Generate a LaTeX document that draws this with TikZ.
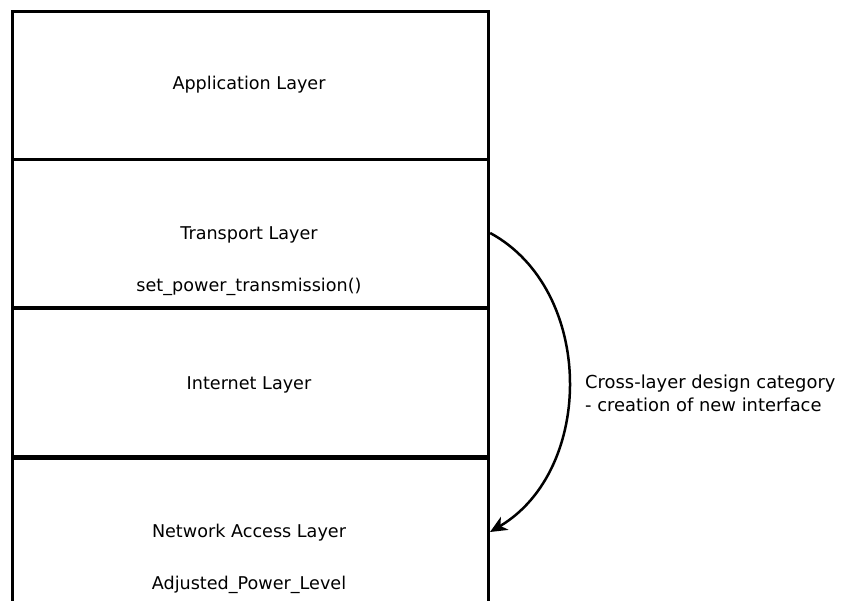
\documentclass[tikz,border=0pt]{standalone}
\usepackage{fontspec}
\setmainfont{DejaVu Sans}
\usetikzlibrary{arrows.meta}
\begin{document}
\begin{tikzpicture}[x=1pt,y=-1pt,
  layerbox/.style={draw=black,line width=3.2pt,minimum width=476pt,minimum height=148pt,inner sep=0pt,anchor=north west},
  lbl/.style={font=\fontsize{17.6pt}{20pt}\selectfont,inner sep=0pt,anchor=base},
  conn/.style={line width=2.5pt,-{Stealth[length=17pt,width=15pt,inset=5pt]}}]
\useasboundingbox (0,0) rectangle (842,600);
\clip (0,0) rectangle (842,600);
\fill[white] (0,0) rectangle (842,600);
\node[layerbox] (app) at (11,10) {};
\node[layerbox] (trans) at (11,158) {};
\node[layerbox] (inet) at (11,307) {};
\node[layerbox] (net) at (11,457) {};
\node[lbl] (tapp) at (249,89) {Application Layer};
\node[lbl] (ttrans) at (249,239) {Transport Layer};
\node[lbl] (tset) at (249,291) {set\_power\_transmission()};
\node[lbl] (tinet) at (249,389) {Internet Layer};
\node[lbl] (tnet) at (249,537) {Network Access Layer};
\node[lbl] (tadj) at (249,589) {Adjusted\_Power\_Level};
\coordinate (s) at (trans.east |- 0,233);
\coordinate (e) at (490,532);
\draw[conn] (s) .. controls (595,290) and (595,470) .. (e);
\node[font=\fontsize{17.9pt}{23pt}\selectfont,align=left,anchor=west,inner sep=0pt] (cat) at (585,393) {Cross-layer design category\\- creation of new interface};
\end{tikzpicture}
\end{document}
